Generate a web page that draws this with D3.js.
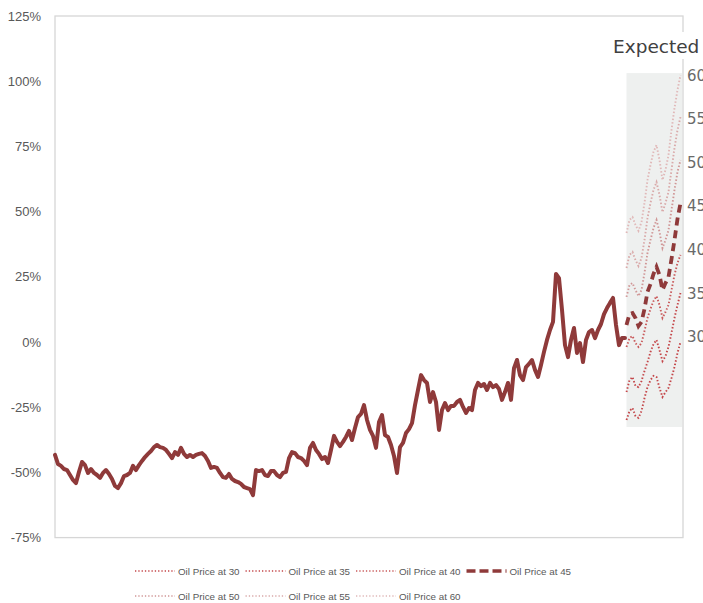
<!DOCTYPE html>
<html>
<head>
<meta charset="utf-8">
<script src="https://cdn.jsdelivr.net/npm/d3@7/dist/d3.min.js"></script>
<style>
  html, body { margin: 0; padding: 0; background: #ffffff; }
  svg { display: block; }
</style>
</head>
<body>
<svg id="chart" width="703" height="603"></svg>
<script>
// ---------- DATA ----------
const leftTicks = [-75, -50, -25, 0, 25, 50, 75, 100, 125];
const rightTicks = [30, 35, 40, 45, 50, 55, 60];
const rightTitle = "Expected";

// historical relative performance (%), weekly
const history = [
  -43.3,-46.8,-47.5,-48.7,-49.1,-51.0,-52.9,-54.1,-49.8,-46.0,
  -47.2,-50.2,-48.7,-50.2,-51.0,-52.1,-50.2,-49.1,-50.6,-52.5,
  -55.2,-56.0,-54.1,-51.4,-51.0,-50.2,-47.5,-49.1,-47.2,-45.6,
  -44.1,-42.9,-41.8,-40.3,-39.5,-40.3,-40.6,-41.4,-42.9,-44.5,
  -42.2,-43.3,-40.6,-42.9,-44.1,-43.3,-44.1,-43.3,-42.9,-42.6,
  -43.7,-45.6,-48.3,-47.9,-48.3,-50.2,-51.8,-52.1,-50.6,-52.5,
  -53.3,-53.7,-54.4,-55.6,-56.0,-56.4,-58.7,-49.1,-49.5,-49.1,
  -51.0,-51.4,-49.5,-49.5,-51.0,-51.8,-50.2,-49.8,-44.5,-42.2,
  -42.6,-44.1,-44.5,-45.6,-47.2,-40.6,-38.7,-41.4,-42.9,-44.9,
  -44.1,-46.4,-41.4,-36.0,-38.3,-39.9,-38.3,-36.4,-34.1,-37.6,
  -33.0,-28.8,-27.6,-24.2,-29.9,-33.7,-36.0,-40.6,-30.7,-28.0,
  -35.7,-36.4,-39.5,-43.7,-50.2,-40.3,-38.7,-34.9,-33.4,-31.1,
  -24.2,-18.4,-12.7,-14.6,-15.7,-23.0,-19.2,-23.0,-33.7,-26.1,
  -23.4,-26.1,-24.5,-24.5,-23.0,-22.2,-24.9,-27.2,-25.3,-26.1,
  -18.4,-15.7,-16.9,-16.1,-18.4,-15.7,-17.3,-16.5,-18.0,-22.2,
  -19.2,-15.7,-22.2,-10.0,-6.9,-12.7,-14.6,-9.6,-8.4,-6.9,
  -10.7,-13.4,-8.8,-3.8,0.8,4.6,7.7,26.1,24.5,12.3,
  -1.2,-5.8,0.8,5.4,-4.2,-0.4,-7.7,0.8,3.8,4.6,
  1.5,4.6,6.9,10.7,13.0,15.0,16.9,6.5,-1.2,1.5,
  1.5
];

// expected paths under each oil price scenario (%)
const oil30 = [-29.9,-26.5,-25.3,-28.4,-29.1,-26.5,-21.5,-17.3,-14.6,-13.0,-13.4,-17.6,-21.1,-19.2,-17.6,-13.8,-9.6,-4.2,0.0];
const oil35 = [-19.2,-14.6,-13.4,-16.9,-17.3,-15.0,-11.1,-7.7,-3.8,-0.8,0.8,-3.1,-7.3,-5.4,-1.9,3.5,9.2,14.2,18.8];
const oil40 = [-1.9,1.5,2.3,-0.4,-1.9,-0.4,4.2,9.2,12.7,15.7,17.6,14.2,9.2,11.5,14.2,19.9,25.7,30.3,33.4];
const oil45 = [6.5,10.7,11.1,9.2,6.1,7.7,12.7,19.2,22.2,26.1,28.8,25.7,19.9,22.6,24.9,31.8,39.1,47.2,53.3];
const oil50 = [17.3,21.9,22.6,19.9,17.6,19.9,26.5,34.1,39.1,43.7,46.8,42.2,36.0,39.1,42.9,50.6,58.3,65.2,69.8];
const oil55 = [28.4,33.4,34.5,31.4,29.1,32.2,39.1,47.5,53.3,58.3,61.3,56.4,49.8,53.3,57.5,66.0,74.4,81.3,86.3];
const oil60 = [41.8,46.8,47.9,44.9,42.6,46.0,53.3,62.1,67.9,72.9,75.5,69.8,62.1,66.0,71.7,81.3,89.7,96.6,102.4];

const scenarioNames = ["Oil Price at 30","Oil Price at 35","Oil Price at 40","Oil Price at 45","Oil Price at 50","Oil Price at 55","Oil Price at 60"];
const scenarioSeries = [oil30, oil35, oil40, oil45, oil50, oil55, oil60];
const forecastBand = [-32.6, 103.1];   // shaded band, in % on left axis
const rightDomain = [7, 66.8];         // secondary axis extent

// ---------- STYLES ----------
const mainColor = "#8f3a3a";
const scenarioStyles = [
  {color: "#c4474a", width: 1.9, dash: "1.5,2", opacity: 1},
  {color: "#c4474a", width: 1.9, dash: "1.5,2", opacity: 1},
  {color: "#c95a5b", width: 1.9, dash: "1.5,2", opacity: 1},
  {color: "#8f3a3a", width: 3.8, dash: "8,5", opacity: 1},
  {color: "#d09696", width: 1.9, dash: "1.5,2", opacity: 1},
  {color: "#d9a9a9", width: 1.9, dash: "1.5,2", opacity: 1},
  {color: "#e0b8b8", width: 1.9, dash: "1.5,2", opacity: 1}
];

// ---------- LAYOUT ----------
const L = 55, R = 683, T = 16, B = 537.6;
const svg = d3.select("#chart");

const nHist = history.length;
const fStart = nHist - 0.5;
const xEnd = fStart + oil30.length - 1 + 0.5;
const x = d3.scaleLinear().domain([0, xEnd]).range([L, R - 1]);
const y = d3.scaleLinear().domain([leftTicks[0], leftTicks[leftTicks.length - 1]]).range([B, T]);
const y2 = d3.scaleLinear().domain(rightDomain).range([B, T]);

// shaded forecast band
svg.append("rect")
  .attr("x", x(fStart))
  .attr("y", y(forecastBand[1]))
  .attr("width", x(xEnd) - x(fStart))
  .attr("height", y(forecastBand[0]) - y(forecastBand[1]))
  .attr("fill", "#eef0ef");

// frame
svg.append("rect")
  .attr("x", L).attr("y", T)
  .attr("width", R - L).attr("height", B - T)
  .attr("fill", "none").attr("stroke", "#d6d6d6").attr("stroke-width", 1.3);

// left axis labels
const leftAxis = d3.axisLeft(y).tickValues(leftTicks).tickFormat(d => d + "%").tickSize(0).tickPadding(14);
const gl = svg.append("g").attr("transform", `translate(${L},0)`).call(leftAxis);
gl.select(".domain").remove();
gl.selectAll("text")
  .attr("fill", "#595959")
  .style("font-family", "'Liberation Sans', Arial, sans-serif")
  .style("font-size", "13px");

// scenario lines (dotted first, dashed 45 on top)
const lineGen = d3.line().x((d, i) => x(fStart + i)).y(d => y(d));
const order = [6, 5, 4, 2, 1, 0, 3];
order.forEach(k => {
  const s = scenarioStyles[k];
  svg.append("path")
    .datum(scenarioSeries[k])
    .attr("d", lineGen)
    .attr("fill", "none")
    .attr("stroke", s.color)
    .attr("stroke-width", s.width)
    .attr("stroke-dasharray", s.dash)
    .attr("opacity", s.opacity);
});

// historical line
svg.append("path")
  .datum(history)
  .attr("d", d3.line().x((d, i) => x(i)).y(d => y(d)))
  .attr("fill", "none")
  .attr("stroke", mainColor)
  .attr("stroke-width", 4)
  .attr("stroke-linejoin", "round")
  .attr("stroke-linecap", "round");

// right axis labels
const rightAxis = d3.axisRight(y2).tickValues(rightTicks).tickFormat(d3.format("d")).tickSize(0).tickPadding(4);
const gr = svg.append("g").attr("transform", `translate(${R},0)`).call(rightAxis);
gr.select(".domain").remove();
gr.selectAll("text")
  .attr("fill", "#6a6a6a")
  .style("font-family", "'DejaVu Sans', sans-serif")
  .style("font-size", "15px");

// right title with white backing
svg.append("rect").attr("x", 609).attr("y", 32).attr("width", 94).attr("height", 27).attr("fill", "#ffffff");
svg.append("text")
  .attr("x", 613).attr("y", 52.5)
  .attr("fill", "#404040")
  .style("font-family", "'DejaVu Sans', sans-serif")
  .style("font-size", "18.5px")
  .text(rightTitle);

// legend
const legendRows = [[0, 1, 2, 3], [4, 5, 6]];
legendRows.forEach((row, r) => {
  row.forEach((k, c) => {
    const x0 = 135 + c * 110.5;
    const yy = 571 + r * 25;
    const s = scenarioStyles[k];
    svg.append("line")
      .attr("x1", x0).attr("x2", x0 + 40)
      .attr("y1", yy).attr("y2", yy)
      .attr("stroke", s.color)
      .attr("stroke-width", k === 3 ? 3.4 : 1.5)
      .attr("stroke-dasharray", k === 3 ? "9,4" : "1.3,2")
      .attr("opacity", s.opacity);
    svg.append("text")
      .attr("x", x0 + 43).attr("y", yy + 3.5)
      .attr("fill", "#595959")
      .style("font-family", "'Liberation Sans', Arial, sans-serif")
      .style("font-size", "9.8px")
      .text(scenarioNames[k]);
  });
});
</script>
</body>
</html>
